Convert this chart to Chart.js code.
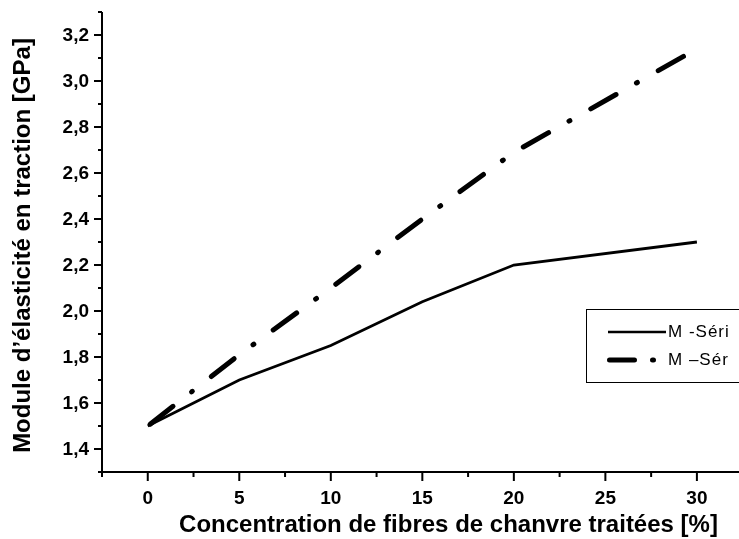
<!DOCTYPE html>
<html>
<head>
<meta charset="utf-8">
<script src="https://cdn.jsdelivr.net/npm/chart.js@4"></script>
<style>
  html, body { margin: 0; padding: 0; background: #fff; overflow: hidden; }
  #wrap { position: relative; width: 739px; height: 539px; }
</style>
</head>
<body>
<div id="wrap"><canvas id="modulusChart"></canvas></div>
<script>
const concentrations = [0, 5, 10, 15, 20, 30];
const serieSolid     = [1.5, 1.7, 1.85, 2.04, 2.2, 2.3];
const serieDashDot   = [1.5, 1.81, 2.1, 2.4, 2.69, 3.14];

const xMajorTicks = [0, 5, 10, 15, 20, 25, 30];
const xMinorTicks = [-2.5, 2.5, 7.5, 12.5, 17.5, 22.5, 27.5];
const yMajorTicks = [1.4, 1.6, 1.8, 2.0, 2.2, 2.4, 2.6, 2.8, 3.0, 3.2];
const yMinorTicks = [1.3, 1.5, 1.7, 1.9, 2.1, 2.3, 2.5, 2.7, 2.9, 3.1, 3.3];

const legendLabels = ['M -Séri', 'M \u2013Sér'];
const xTitle = 'Concentration de fibres de chanvre traitées [%]';
const yTitle = 'Module d\u2019élasticité en traction [GPa]';

const FONT = '"Liberation Sans", Arial, Helvetica, sans-serif';
const INK  = '#000000';

const toPoints = ys => ys.map((v, i) => ({ x: concentrations[i], y: v }));

// axes, ticks and titles drawn with the chart's own scales
const axesPlugin = {
    id: 'originAxes',
    beforeDatasetsDraw(chart) {
        const { ctx, chartArea: a, scales: { x, y } } = chart;
        ctx.save();
        ctx.strokeStyle = INK;
        ctx.fillStyle = INK;
        ctx.lineWidth = 2;
        ctx.lineCap = 'butt';

        ctx.beginPath();
        ctx.moveTo(a.left, a.top);
        ctx.lineTo(a.left, a.bottom);
        ctx.moveTo(a.left - 1, a.bottom);
        ctx.lineTo(a.right, a.bottom);
        ctx.stroke();

        ctx.beginPath();
        yMajorTicks.forEach(v => {
            const py = y.getPixelForValue(v);
            ctx.moveTo(a.left - 8, py); ctx.lineTo(a.left, py);
        });
        yMinorTicks.forEach(v => {
            const py = y.getPixelForValue(v);
            ctx.moveTo(a.left - 4, py); ctx.lineTo(a.left, py);
        });
        xMajorTicks.forEach(v => {
            const px = x.getPixelForValue(v);
            ctx.moveTo(px, a.bottom); ctx.lineTo(px, a.bottom + 9);
        });
        xMinorTicks.forEach(v => {
            const px = x.getPixelForValue(v);
            ctx.moveTo(px, a.bottom); ctx.lineTo(px, a.bottom + 5);
        });
        ctx.stroke();

        ctx.font = 'bold 19px ' + FONT;
        ctx.textAlign = 'right';
        ctx.textBaseline = 'middle';
        yMajorTicks.forEach(v => {
            ctx.fillText(v.toFixed(1).replace('.', ','), a.left - 13, y.getPixelForValue(v) + 0.5);
        });
        ctx.textAlign = 'center';
        ctx.textBaseline = 'alphabetic';
        xMajorTicks.forEach(v => {
            ctx.fillText(String(v), x.getPixelForValue(v), a.bottom + 31.5);
        });

        ctx.font = 'bold 24px ' + FONT;
        ctx.fillText(xTitle, 448.5, 531.5);
        ctx.translate(30, (a.top + a.bottom) / 2 + 3.5);
        ctx.rotate(-Math.PI / 2);
        ctx.fillText(yTitle, 0, 0);
        ctx.restore();
    },
    afterDatasetsDraw(chart) {
        const { ctx } = chart;
        ctx.save();
        ctx.fillStyle = '#ffffff';
        ctx.fillRect(586, 309, 300, 73);
        ctx.strokeStyle = INK;
        ctx.lineWidth = 1;
        ctx.strokeRect(586.5, 309.5, 300, 73);

        ctx.lineWidth = 2.6;
        ctx.beginPath();
        ctx.moveTo(608, 332); ctx.lineTo(666, 332);
        ctx.stroke();

        ctx.lineWidth = 5;
        ctx.lineCap = 'round';
        ctx.setLineDash([25, 18, 1, 200]);
        ctx.beginPath();
        ctx.moveTo(609.5, 360); ctx.lineTo(660, 360);
        ctx.stroke();
        ctx.setLineDash([]);

        ctx.fillStyle = INK;
        ctx.font = '17px ' + FONT;
        ctx.letterSpacing = '1px';
        ctx.textAlign = 'left';
        ctx.textBaseline = 'middle';
        ctx.fillText(legendLabels[0], 668, 332);
        ctx.fillText(legendLabels[1], 668, 360);
        ctx.restore();
    }
};

new Chart(document.getElementById('modulusChart'), {
    type: 'line',
    data: {
        datasets: [
            {
                label: legendLabels[0],
                data: toPoints(serieSolid),
                borderColor: INK,
                borderWidth: 2.8,
                pointRadius: 0,
                tension: 0,
                fill: false
            },
            {
                label: legendLabels[1],
                data: toPoints(serieDashDot),
                borderColor: INK,
                borderWidth: 5,
                borderDash: [29, 23.5, 1, 24],
                borderDashOffset: -3,
                borderCapStyle: 'round',
                borderJoinStyle: 'round',
                pointRadius: 0,
                tension: 0,
                fill: false
            }
        ]
    },
    options: {
        responsive: true,
        maintainAspectRatio: false,
        animation: false,
        layout: { padding: { left: 102, top: 12, right: 0, bottom: 67 } },
        plugins: {
            legend: { display: false },
            tooltip: { enabled: false }
        },
        scales: {
            x: { type: 'linear', min: -2.5, max: 32.3, display: false },
            y: { type: 'linear', min: 1.3, max: 3.3, display: false }
        }
    },
    plugins: [axesPlugin]
});
</script>
</body>
</html>
